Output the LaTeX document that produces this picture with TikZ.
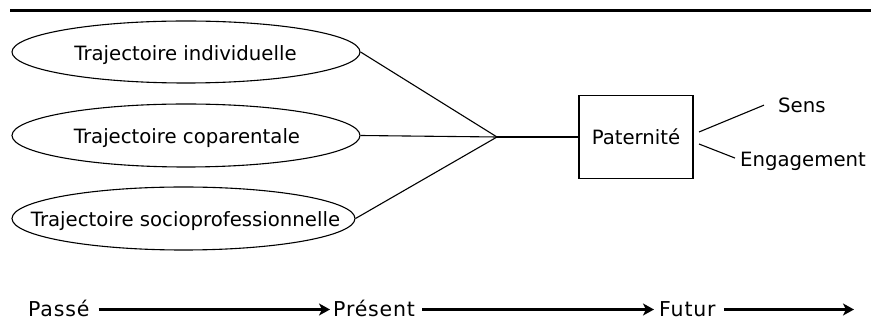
\documentclass[tikz,border=0pt]{standalone}
\usepackage{fontspec}
\setmainfont{DejaVu Sans}
\newfontfamily\timefont[LetterSpace=4]{DejaVu Sans}
\usetikzlibrary{shapes.geometric,arrows.meta}
\begin{document}
\begin{tikzpicture}[x=1pt,y=-1pt,
  ell/.style={ellipse,draw,line width=1.1pt,inner sep=0pt},
  lbl/.style={inner sep=0pt,font=\fontsize{19.7}{22}\selectfont,anchor=base},
  tl/.style={inner sep=0pt,font=\timefont\fontsize{20.5}{22}\selectfont,anchor=base west},
  conn/.style={line width=1.1pt},
  boxst/.style={draw,line width=1.3pt,minimum width=114pt,minimum height=83pt,inner sep=0pt,font=\fontsize{19.7}{22}\selectfont},
  tarrow/.style={line width=3pt,-{Stealth[length=11pt,width=12pt,inset=3pt]}}]
\useasboundingbox (0,0) rectangle (871,328);
% top rule
\coordinate (r1) at (10,11);
\coordinate (r2) at (871,11);
\draw[line width=3pt] (r1) -- (r2);
% ellipses
\node[ell,minimum width=348pt,minimum height=62pt] (e1) at (186,52) {};
\node[ell,minimum width=348pt,minimum height=63pt] (e2) at (186,135.5) {};
\node[ell,minimum width=343pt,minimum height=63pt] (e3) at (183.5,218.5) {};
\node[lbl] (t1) at (185.5,60.7) {Trajectoire individuelle};
\node[lbl] (t2) at (187,144) {Trajectoire coparentale};
\node[lbl] (t3) at (185.5,227) {Trajectoire socioprofessionnelle};
% junction and box
\coordinate (J) at (497,137);
\node[boxst] (pat) at (636,137) {Paternité};
\draw[conn] (e1.east) -- (J);
\draw[conn] (e2.east) -- (J);
\draw[conn] (e3.east) -- (J);
\draw[conn] (J) -- (pat.west);
% outputs
\node[lbl,anchor=base west] (sens) at (778,112.3) {Sens};
\node[lbl,anchor=base west] (eng) at (740,166.7) {Engagement};
\coordinate (p1) at (699,132);
\coordinate (p2) at (699,144);
\draw[conn] (p1) -- ([xshift=-14pt]sens.west);
\draw[conn] (p2) -- ([shift={(-5pt,3.5pt)}]eng.west);
% time line
\coordinate (ay) at (0,309.5);
\coordinate (fin) at (854,309.5);
\node[tl] (pas) at (28,316.5) {Passé};
\node[tl] (pre) at (333,316.5) {Présent};
\node[tl] (fut) at (659,316.5) {Futur};
\draw[tarrow] ([xshift=9pt]pas.east |- ay) -- ([xshift=-3pt]pre.west |- ay);
\draw[tarrow] ([xshift=7pt]pre.east |- ay) -- ([xshift=-5pt]fut.west |- ay);
\draw[tarrow] ([xshift=8pt]fut.east |- ay) -- (fin);
\end{tikzpicture}
\end{document}
